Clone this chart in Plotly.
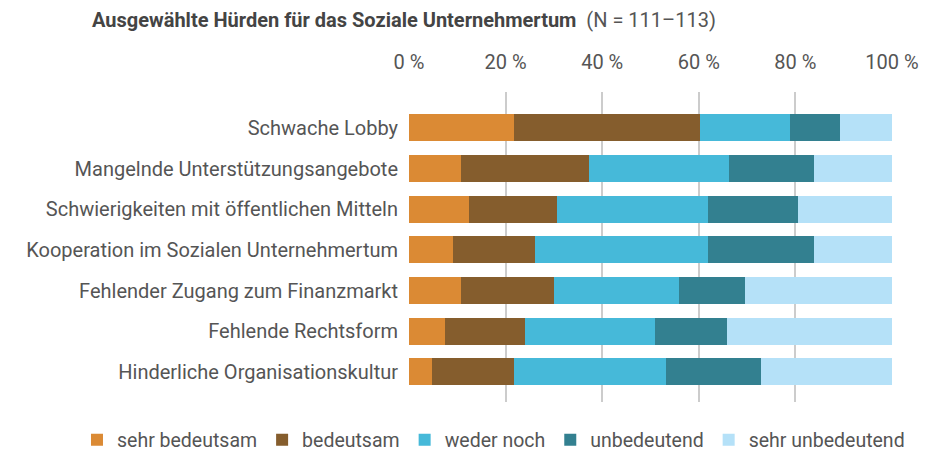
import plotly.graph_objects as go

categories = [
    "Schwache Lobby",
    "Mangelnde Unterstützungsangebote",
    "Schwierigkeiten mit öffentlichen Mitteln",
    "Kooperation im Sozialen Unternehmertum",
    "Fehlender Zugang zum Finanzmarkt",
    "Fehlende Rechtsform",
    "Hinderliche Organisationskultur",
]

sehr_bedeutsam = [21.7, 10.7, 12.4, 9.1, 10.7, 7.4, 4.8]
bedeutsam = [38.5, 26.5, 18.2, 17.0, 19.3, 16.6, 16.9]
weder_noch = [18.6, 29.0, 31.3, 35.8, 25.8, 26.9, 31.5]
unbedeutend = [10.5, 17.6, 18.6, 21.9, 13.7, 14.9, 19.6]
sehr_unbedeutend = [10.7, 16.2, 19.5, 16.2, 30.5, 34.2, 27.2]

series = [
    ("sehr bedeutsam", sehr_bedeutsam, "#DB8A34"),
    ("bedeutsam", bedeutsam, "#855D2D"),
    ("weder noch", weder_noch, "#46B9D9"),
    ("unbedeutend", unbedeutend, "#338090"),
    ("sehr unbedeutend", sehr_unbedeutend, "#B5E1F8"),
]

tick_vals = [0, 20, 40, 60, 80, 100]
tick_text = ["0 %", "20 %", "40 %", "60 %", "80 %", "100 %"]

FONT = "Roboto, sans-serif"

# page body has an 8px margin, so the figure is 8px smaller than the window
W, H = 938, 444

fig = go.Figure()
for name, vals, color in series:
    fig.add_trace(go.Bar(
        y=categories, x=vals, name=name, orientation="h",
        marker=dict(color=color, line=dict(width=0)),
    ))

fig.update_layout(
    barmode="stack",
    bargap=0.336,
    width=W, height=H,
    paper_bgcolor="white", plot_bgcolor="white",
    font=dict(family=FONT, size=20, color="#555555"),
    margin=dict(l=401, r=54, t=84, b=50, autoexpand=False),
    title=dict(
        text="<b>Ausgewählte Hürden für das Soziale Unternehmertum</b>  <span style='font-size:20px;color:#555555'>(N = 111–113)</span>",
        x=84 / W, xanchor="left", xref="container",
        y=1 - 12 / H, yanchor="middle", yref="container",
        font=dict(family=FONT, size=20, color="#444444"),
    ),
    xaxis=dict(
        side="top", range=[0, 100], tickvals=tick_vals, ticktext=tick_text,
        showgrid=True, gridcolor="#CCCCCC", gridwidth=2, zeroline=False,
        ticks="", ticklabelstandoff=18, showline=False, automargin=False,
    ),
    yaxis=dict(
        categoryorder="array", categoryarray=categories,
        range=[6.74, -0.885], showgrid=False, zeroline=False,
        ticks="", ticklabelstandoff=10, automargin=False,
    ),
    legend=dict(
        orientation="h", xref="paper", x=-0.6874, xanchor="left",
        yref="paper", y=-0.1226, yanchor="middle",
        traceorder="normal", itemwidth=30, tracegroupgap=0,
        font=dict(family=FONT, size=19.5, color="#555555"),
    ),
)

fig.write_html("out.html")
